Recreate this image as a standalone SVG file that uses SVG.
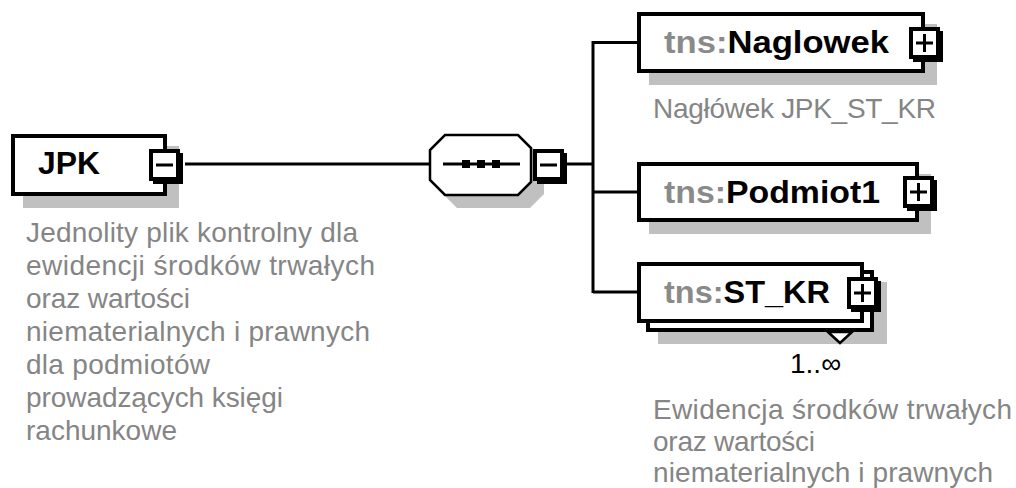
<svg xmlns="http://www.w3.org/2000/svg" width="1016" height="488" viewBox="0 0 1016 488">
<style>
.box{fill:#fff;stroke:#000;stroke-width:4}
.shadow{fill:#c0c0c0}
.line{stroke:#000;stroke-width:3;fill:none}
.title{font-family:"Liberation Sans",Arial,sans-serif;font-weight:bold;font-size:32px;fill:#000}
.pfx{fill:#8a8a8a}
.desc{font-family:"Liberation Sans",Arial,sans-serif;font-size:28px;fill:#858585}
.card{font-family:"Liberation Sans",Arial,sans-serif;font-size:28px;fill:#000}
.bs{fill:#000}
.bf{fill:#fff;stroke:#000;stroke-width:4}
.sign{stroke:#000;stroke-width:3}
</style>
<defs>
<g id="btnbase">
<rect class="bs" x="4" y="4" width="30" height="31"/>
<rect class="bf" x="2" y="2" width="27" height="28"/>
</g>
<g id="minus">
<use href="#btnbase"/>
<line class="sign" x1="7" y1="16" x2="24" y2="16"/>
</g>
<g id="plus">
<use href="#btnbase"/>
<line class="sign" x1="7" y1="16" x2="24" y2="16"/>
<line class="sign" x1="15.5" y1="7" x2="15.5" y2="25"/>
</g>
</defs>

<g id="connectors">
<line class="line" x1="185" y1="164" x2="429" y2="164"/>
<line class="line" x1="567" y1="164" x2="593" y2="164"/>
<line class="line" x1="593" y1="41" x2="593" y2="293"/>
<line class="line" x1="593" y1="42.5" x2="637" y2="42.5"/>
<line class="line" x1="593" y1="192" x2="637" y2="192"/>
<line class="line" x1="593" y1="292" x2="637" y2="292"/>
</g>

<g id="node-jpk">
<rect class="shadow" x="23" y="146" width="156" height="62"/>
<rect class="box" x="13" y="136" width="152" height="58"/>
<text class="title" x="38" y="174" font-size="31" textLength="62" lengthAdjust="spacingAndGlyphs">JPK</text>
<use href="#minus" x="149" y="149"/>
<text class="desc">
<tspan x="26" y="242" textLength="332">Jednolity plik kontrolny dla</tspan>
<tspan x="26" y="275" textLength="349">ewidencji środków trwałych</tspan>
<tspan x="26" y="308" textLength="164">oraz wartości</tspan>
<tspan x="26" y="341" textLength="344">niematerialnych i prawnych</tspan>
<tspan x="26" y="374" textLength="184">dla podmiotów</tspan>
<tspan x="26" y="407" textLength="257">prowadzących księgi</tspan>
<tspan x="26" y="440" textLength="151">rachunkowe</tspan>
</text>
</g>

<g id="node-sequence">
<polygon class="shadow" points="457,146 530,146 544,160 544,194 530,208 457,208 441,192 441,162"/>
<polygon points="445,135 518,135 531,148 531,182 518,195 445,195 430,180 430,150" fill="#fff" stroke="#000" stroke-width="2.5"/>
<line class="line" x1="443" y1="164" x2="520" y2="164"/>
<rect x="462" y="160" width="8" height="8" fill="#000"/>
<rect x="477" y="160" width="8" height="8" fill="#000"/>
<rect x="492" y="160" width="8" height="8" fill="#000"/>
<use href="#minus" x="533" y="149"/>
</g>

<g id="node-naglowek">
<rect class="shadow" x="649" y="24" width="288" height="61"/>
<rect class="box" x="639" y="14" width="284" height="57"/>
<text class="title" x="664" y="53" textLength="225" lengthAdjust="spacingAndGlyphs"><tspan class="pfx">tns:</tspan>Naglowek</text>
<use href="#plus" x="909" y="27"/>
<text class="desc" x="653" y="118" textLength="283">Nagłówek JPK_ST_KR</text>
</g>

<g id="node-podmiot1">
<rect class="shadow" x="649" y="174" width="282" height="60"/>
<rect class="box" x="639" y="164" width="278" height="56"/>
<text class="title" x="664" y="203" textLength="216" lengthAdjust="spacingAndGlyphs"><tspan class="pfx">tns:</tspan>Podmiot1</text>
<use href="#plus" x="903" y="176"/>
</g>

<g id="node-st-kr">
<rect class="shadow" x="658" y="282" width="229" height="62"/>
<rect class="box" x="648" y="272" width="224" height="58"/>
<polygon points="828,332 840,343 852,332" fill="#fff" stroke="#000" stroke-width="2.5"/>
<rect class="box" x="639" y="264" width="223" height="57"/>
<text class="title" x="664" y="303" textLength="166" lengthAdjust="spacingAndGlyphs"><tspan class="pfx">tns:</tspan>ST_KR</text>
<use href="#plus" x="847" y="277"/>
<text class="card" x="790" y="373">1..∞</text>
<text class="desc">
<tspan x="653" y="419" textLength="359">Ewidencja środków trwałych</tspan>
<tspan x="653" y="451" textLength="162">oraz wartości</tspan>
<tspan x="653" y="482" textLength="340">niematerialnych i prawnych</tspan>
</text>
</g>
</svg>
